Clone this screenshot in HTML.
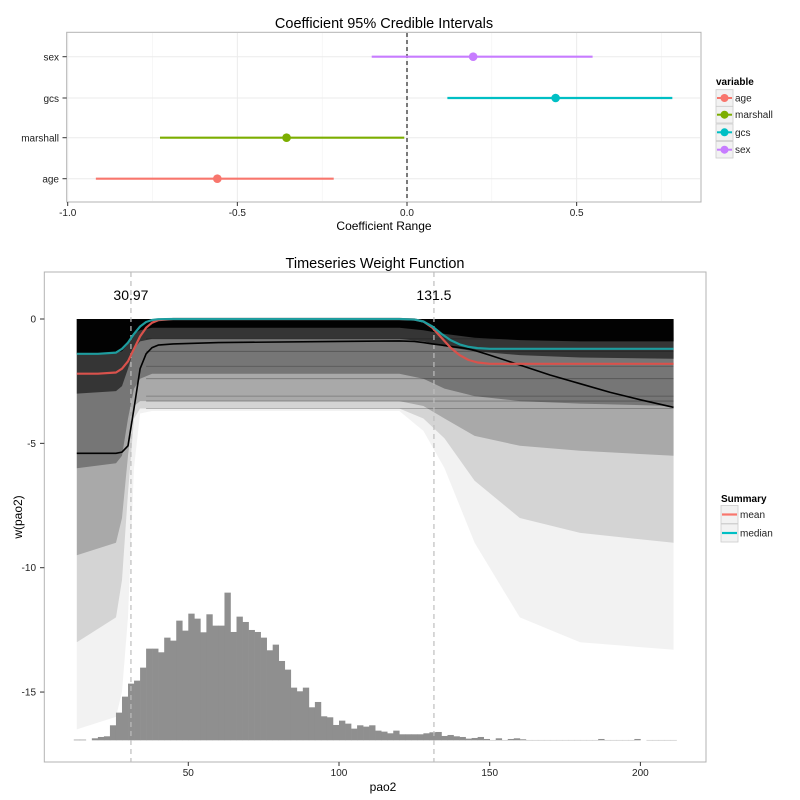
<!DOCTYPE html>
<html><head><meta charset="utf-8"><style>
body{margin:0;background:#fff;}
svg{display:block;font-family:"Liberation Sans",Arial,sans-serif;}
</style></head><body>
<svg id="svg" width="800" height="800" viewBox="0 0 800 800" xmlns="http://www.w3.org/2000/svg">
<rect width="800" height="800" fill="#fff"/>
<g id="topChart"></g>
<g id="botChart"></g>
</svg>
<script>
// ---------- Top chart data ----------
const coefVars = ["age","marshall","gcs","sex"];
const coefLow = [-0.917,-0.728,0.119,-0.104];
const coefMid = [-0.559,-0.355,0.438,0.195];
const coefHigh = [-0.216,-0.008,0.782,0.547];
const coefColors = ["#F8766D","#7CAE00","#00BFC4","#C77CFF"];
const coefTicks = [-1.0,-0.5,0.0,0.5];
const coefTickLabels = ["-1.0","-0.5","0.0","0.5"];

// ---------- Bottom chart data ----------
const histBins = [12,14,16,18,20,22,24,26,28,30,32,34,36,38,40,42,44,46,48,50,52,54,56,58,60,62,64,66,68,70,72,74,76,78,80,82,84,86,88,90,92,94,96,98,100,102,104,106,108,110,112,114,116,118,120,122,124,126,128,130,132,134,136,138,140,142,144,146,148,150,152,154,156,158,160,162,164,166,168,170,172,174,176,178,180,182,184,186,188,190,192,194,196,198,200,202,204,206,208,210];
const histCounts = [2,2,0,6,10,12,45,83,131,170,179,218,275,275,264,308,299,359,329,380,365,324,378,344,344,443,325,371,355,331,325,308,270,287,238,212,158,147,158,99,115,72,69,46,59,50,35,45,41,45,29,26,21,29,18,18,18,18,21,24,25,13,16,12,10,5,7,10,4,1,6,1,4,6,3,1,1,1,1,1,1,1,1,1,1,1,1,4,1,1,1,1,1,4,0,1,1,1,1,1];
const curveX = [13,20,26,28,30,32,34,36,38,40,45,60,100,120,125,128,131,134,137,140,143,146,150,160,170,180,190,200,211];
const meanW = [-2.2,-2.2,-2.15,-2.0,-1.7,-1.2,-0.7,-0.35,-0.15,-0.05,0,0,0,0,-0.02,-0.1,-0.35,-0.75,-1.15,-1.45,-1.65,-1.75,-1.8,-1.8,-1.8,-1.8,-1.8,-1.8,-1.8];
const medianW = [-1.4,-1.4,-1.35,-1.2,-0.95,-0.6,-0.3,-0.12,-0.04,-0.01,0,0,0,0,-0.02,-0.1,-0.3,-0.6,-0.85,-1.02,-1.12,-1.17,-1.2,-1.2,-1.2,-1.2,-1.2,-1.2,-1.2];
const sampleW = [-5.4,-5.4,-5.4,-5.35,-5.1,-3.6,-2.0,-1.4,-1.15,-1.05,-1.0,-0.95,-0.9,-0.88,-0.9,-0.95,-1.0,-1.05,-1.1,-1.15,-1.2,-1.3,-1.45,-1.85,-2.25,-2.6,-2.95,-3.25,-3.55];
const bandX = [13,26,28,30,32,34,38,60,120,128,135,145,160,180,211];
const bandLow = [
 [-16.5,-16,-15,-12,-6,-3.8,-3.7,-3.7,-3.7,-4.5,-6,-9,-12,-13,-13.3],
 [-13,-12,-10.5,-7,-4,-3.6,-3.6,-3.6,-3.6,-4,-4.8,-6.5,-8,-8.6,-9],
 [-9.5,-9,-8,-5.5,-3.5,-3.3,-3.3,-3.3,-3.3,-3.5,-4,-4.7,-5.1,-5.3,-5.5],
 [-6,-5.8,-5.5,-4,-2.8,-2.4,-2.2,-2.2,-2.2,-2.4,-2.8,-3.1,-3.3,-3.4,-3.5],
 [-3,-2.9,-2.7,-2,-1.2,-0.9,-0.8,-0.8,-0.8,-0.9,-1.1,-1.3,-1.45,-1.55,-1.6],
 [-1.4,-1.35,-1.3,-1.0,-0.6,-0.45,-0.35,-0.35,-0.35,-0.45,-0.6,-0.75,-0.85,-0.9,-0.9]
];
const bandOpacity = [0.05,0.12,0.2,0.3,0.55,0.95];
const yTicks = [0,-5,-10,-15];
const xTicks = [50,100,150,200];
const cutPoints = [30.97,131.5];
const cutLabels = ["30.97","131.5"];

const NS="http://www.w3.org/2000/svg";
function mk(parent,tag,attrs,text){const e=document.createElementNS(NS,tag);for(const k in attrs)e.setAttribute(k,attrs[k]);if(text!==undefined)e.textContent=text;parent.appendChild(e);return e;}

// ===== TOP =====
const topG=document.getElementById('topChart');
const tx=v=>407+v*339.3;
const rowY=[178.7,137.7,98,56.7];
mk(topG,'rect',{x:66.7,y:32.3,width:634.3,height:169.7,fill:'#fff',stroke:'#b3b3b3','stroke-width':1});
[-0.75,-0.25,0.25,0.75].forEach(v=>{const l=mk(topG,'line',{x1:tx(v),x2:tx(v),y1:33,y2:201,stroke:'#f2f2f2','stroke-width':0.6});});
coefTicks.forEach(v=>{mk(topG,'line',{x1:tx(v),x2:tx(v),y1:33,y2:201,stroke:'#ebebeb','stroke-width':1});});
rowY.forEach(y=>mk(topG,'line',{x1:67,x2:700,y1:y,y2:y,stroke:'#ebebeb','stroke-width':1}));
mk(topG,'line',{x1:tx(0),x2:tx(0),y1:33,y2:201,stroke:'#333','stroke-width':1.3,'stroke-dasharray':'4,3'});
coefVars.forEach((n,i)=>{
  const g=mk(topG,'g',{});
  
  
  mk(g,'line',{x1:tx(coefLow[i]),x2:tx(coefHigh[i]),y1:rowY[i],y2:rowY[i],stroke:coefColors[i],'stroke-width':2.2});
  mk(g,'circle',{cx:tx(coefMid[i]),cy:rowY[i],r:4.3,fill:coefColors[i]});
  mk(topG,'line',{x1:62.5,x2:66.7,y1:rowY[i],y2:rowY[i],stroke:'#333'});
  const tl=mk(topG,'text',{x:59,y:rowY[i]+4,'text-anchor':'end','font-size':10,fill:'#222'},n);
  
});
coefTicks.forEach((v,i)=>{
  mk(topG,'line',{x1:tx(v),x2:tx(v),y1:202,y2:206,stroke:'#333'});
  const tl=mk(topG,'text',{x:tx(v),y:216,'text-anchor':'middle','font-size':10,fill:'#222'},coefTickLabels[i]);
  
});
let tt0=mk(topG,'text',{x:384,y:28,'text-anchor':'middle','font-size':14.5,fill:'#000'},'Coefficient 95% Credible Intervals');

tt0=mk(topG,'text',{x:384,y:230,'text-anchor':'middle','font-size':12,fill:'#000'},'Coefficient Range');

tt0=mk(topG,'text',{x:716,y:85,'font-size':10,'font-weight':'bold',fill:'#000'},'variable');

const legY=[98,114.7,132.3,149.7];
coefVars.forEach((n,i)=>{
  const g=mk(topG,'g',{});
  
  
  mk(g,'rect',{x:716,y:legY[i]-8.3,width:17,height:16.6,fill:'#f2f2f2',stroke:'#ccc','stroke-width':0.8});
  mk(g,'line',{x1:717,x2:732,y1:legY[i],y2:legY[i],stroke:coefColors[i],'stroke-width':2});
  mk(g,'circle',{cx:724.5,cy:legY[i],r:4,fill:coefColors[i]});
  mk(g,'text',{x:735,y:legY[i]+3.5,'font-size':10,fill:'#222'},n);
});

// ===== BOTTOM =====
const botG=document.getElementById('botChart');
const bx=v=>37.6+v*3.014;
const by=w=>319+(-w)*24.87;
mk(botG,'rect',{x:44.3,y:272,width:661.7,height:490,fill:'#fff',stroke:'#b3b3b3','stroke-width':1});
const bands=mk(botG,'g',{});


bandLow.forEach((low,k)=>{
  let d='M'+bx(13)+','+by(0)+' L'+bx(211)+','+by(0);
  for(let i=bandX.length-1;i>=0;i--) d+=' L'+bx(bandX[i]).toFixed(1)+','+by(low[i]).toFixed(1);
  d+=' Z';
  mk(bands,'path',{d:d,fill:'#000','fill-opacity':bandOpacity[k]});
});
const streakW=[-0.8,-1.3,-1.9,-2.4,-3.1,-3.3,-3.6];
streakW.forEach(w=>mk(bands,'line',{x1:bx(36),x2:bx(211),y1:by(w),y2:by(w),stroke:'#000','stroke-opacity':0.3,'stroke-width':0.8}));
const hist=mk(botG,'g',{});


const base=740.3;
histBins.forEach((b,i)=>{
  if(histCounts[i]<=0)return;
  const h=histCounts[i]/3;
  const r=mk(hist,'rect',{x:bx(b).toFixed(2),y:(base-h).toFixed(2),width:(2*3.014+0.3).toFixed(2),height:h.toFixed(2),fill:'#8f8f8f'});
  
  
});
cutPoints.forEach((c,i)=>{
  const l=mk(botG,'line',{x1:bx(c),x2:bx(c),y1:272,y2:762,stroke:'#bdbdbd','stroke-width':1.2,'stroke-dasharray':'5,4'});
  
  const tl=mk(botG,'text',{x:bx(c),y:300,'text-anchor':'middle','font-size':14,fill:'#000'},cutLabels[i]);
  
});
function line(ys,col,w,name){
  let d='';curveX.forEach((x,i)=>{d+=(i?' L':'M')+bx(x).toFixed(1)+','+by(ys[i]).toFixed(1);});
  const p=mk(botG,'path',{d:d,fill:'none',stroke:col,'stroke-width':w,'stroke-linejoin':'round'});
  
}
line(sampleW,'#000',1.6,'highlight-curve');
line(meanW,'#D9524C',2.2,'mean-line');
line(medianW,'#1E9C9E',2.2,'median-line');
yTicks.forEach(v=>{
  mk(botG,'line',{x1:40,x2:44.3,y1:by(v),y2:by(v),stroke:'#333'});
  const tl=mk(botG,'text',{x:36,y:by(v)+3.5,'text-anchor':'end','font-size':10,fill:'#222'},String(v));
  
});
xTicks.forEach(v=>{
  mk(botG,'line',{x1:bx(v),x2:bx(v),y1:762,y2:766,stroke:'#333'});
  const tl=mk(botG,'text',{x:bx(v),y:776,'text-anchor':'middle','font-size':10,fill:'#222'},String(v));
  
});
tt0=mk(botG,'text',{x:375,y:268,'text-anchor':'middle','font-size':14.5,fill:'#000'},'Timeseries Weight Function');

tt0=mk(botG,'text',{x:383,y:791,'text-anchor':'middle','font-size':12,fill:'#000'},'pao2');

tt0=mk(botG,'text',{x:0,y:0,'text-anchor':'middle','font-size':12,fill:'#000',transform:'translate(22,517) rotate(-90)'},'w(pao2)');

tt0=mk(botG,'text',{x:721,y:502,'font-size':10,'font-weight':'bold',fill:'#000'},'Summary');

[['mean','#F8766D',514.5],['median','#00BFC4',533]].forEach(e=>{
  const g=mk(botG,'g',{});
  
  
  mk(g,'rect',{x:721,y:e[2]-9,width:17,height:18,fill:'#f2f2f2',stroke:'#ccc','stroke-width':0.8});
  mk(g,'line',{x1:722,x2:737,y1:e[2],y2:e[2],stroke:e[1],'stroke-width':2.2});
  mk(g,'text',{x:740,y:e[2]+3.5,'font-size':10,fill:'#222'},e[0]);
});
</script>
</body></html>
